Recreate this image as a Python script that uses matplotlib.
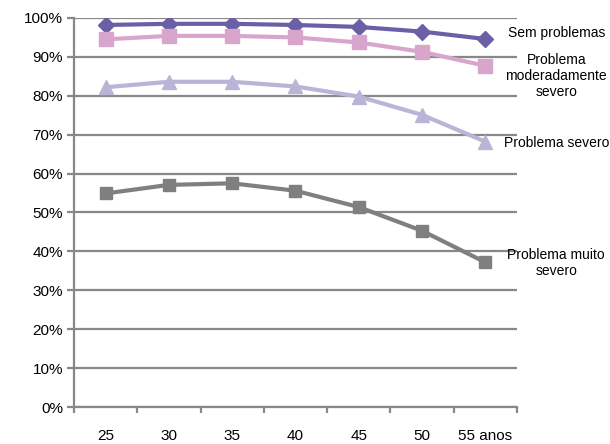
import matplotlib.pyplot as plt
import numpy as np

plt.rcParams['font.family'] = ['Liberation Sans', 'DejaVu Sans']

# Dados
idades = ["25", "30", "35", "40", "45", "50", "55 anos"]
sem_problemas = [98.2, 98.5, 98.5, 98.2, 97.7, 96.5, 94.6]
moderado = [94.5, 95.4, 95.4, 95.0, 93.7, 91.3, 87.7]
severo = [82.2, 83.6, 83.6, 82.4, 79.8, 75.1, 68.2]
muito_severo = [54.9, 57.1, 57.5, 55.6, 51.4, 45.3, 37.2]

series = [
    (sem_problemas, "#6B5FA5", "D", 8, "Sem problemas"),
    (moderado, "#D8A6CC", "s", 10, "Problema\nmoderadamente\nsevero"),
    (severo, "#B9B5D6", "^", 10, "Problema severo"),
    (muito_severo, "#7F7F7F", "s", 8, "Problema muito\nsevero"),
]

fig = plt.figure(figsize=(6.1, 4.44), dpi=100)
ax = fig.add_axes([0.1213, 0.0833, 0.7262, 0.8762])

x = np.arange(len(idades))
for vals, cor, marker, ms, nome in series:
    ax.plot(x, vals, color=cor, marker=marker, markersize=ms, linewidth=3,
            zorder=3)

# Rótulos à direita
kw = dict(fontsize=10, ha="center", va="center", linespacing=1.15,
          clip_on=False)
ax.text(7.12, 96.1, "Sem problemas", **kw)
ax.text(7.12, 85.1, "Problema\nmoderadamente\nsevero", **kw)
ax.text(7.12, 67.9, "Problema severo", **kw)
ax.text(7.12, 37.1, "Problema muito\nsevero", **kw)

ax.set_xlim(-0.5, len(idades) - 0.5)
ax.set_ylim(0, 100)

gris = "#888888"
ax.set_yticks(np.arange(0, 101, 10))
ax.set_yticklabels([f"{v}%" for v in range(0, 101, 10)], fontsize=11)
ax.yaxis.grid(True, color=gris, linewidth=1.6)
ax.set_axisbelow(True)

ax.set_xticks(np.arange(-0.5, len(idades), 1))
ax.set_xticklabels([])
ax.set_xticks(x, minor=True)
ax.set_xticklabels(idades, minor=True, fontsize=11)
ax.tick_params(axis="x", which="minor", length=0, pad=16)
ax.tick_params(axis="x", which="major", length=4, width=1.6, color=gris)
ax.tick_params(axis="y", length=5, width=1.6, color=gris, pad=3)

for lado in ["top", "right"]:
    ax.spines[lado].set_visible(False)
for lado in ["left", "bottom"]:
    ax.spines[lado].set_color(gris)
    ax.spines[lado].set_linewidth(1.6)

plt.savefig("out.png", dpi=100)
plt.close()
